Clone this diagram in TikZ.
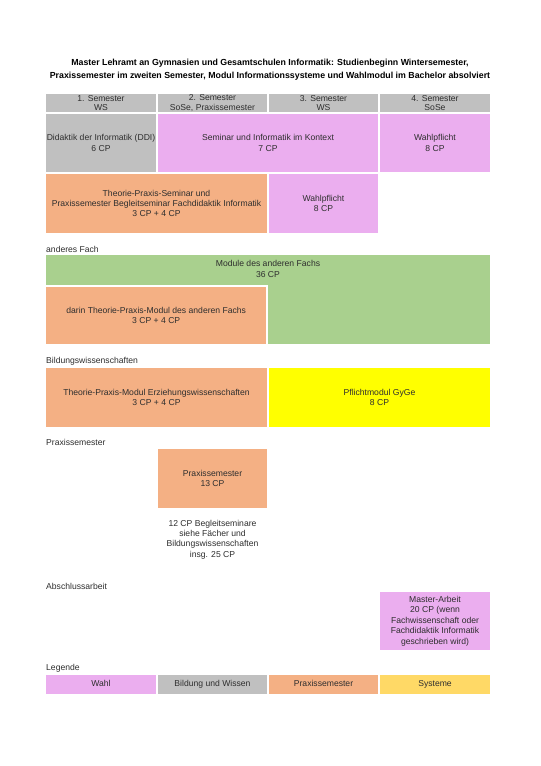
\documentclass[tikz,border=0pt]{standalone}
\usepackage{fontspec}
\setmainfont{Liberation Sans}
\definecolor{cgray}{HTML}{C0C0C0}
\definecolor{cpink}{HTML}{EBAEEF}
\definecolor{corange}{HTML}{F4B084}
\definecolor{cgreen}{HTML}{A9D08E}
\definecolor{cyellow}{HTML}{FFFF00}
\definecolor{csys}{HTML}{FFD966}
\definecolor{ctext}{HTML}{2E2E2E}
\begin{document}
\begin{tikzpicture}[x=1pt,y=-1pt,
  every node/.style={font=\fontsize{8.6}{10.4}\selectfont, text=ctext, inner sep=0pt},
  cell/.style={rectangle, align=center, minimum width=#1},
  hdr/.style={font=\fontsize{8.6}{9.8}\selectfont},
  leg/.style={text height=6.3, text depth=1.9},
  lbl/.style={anchor=west},
  txt/.style={align=center}]
\useasboundingbox[fill=white] (0,0) rectangle (541,766);
% title
\node[txt, font=\fontsize{8.8}{12.8}\selectfont\bfseries, text=black] (title) at (270,69.5)
  {Master Lehramt an Gymnasien und Gesamtschulen Informatik: Studienbeginn Wintersemester,\\
   Praxissemester im zweiten Semester, Modul Informationssysteme und Wahlmodul im Bachelor absolviert};
% header
\node[cell=110, minimum height=18, fill=cgray, hdr] (h1) at (101,103) {1. Semester\\WS};
\node[cell=109, minimum height=18, fill=cgray, hdr] (h2) at (212.5,103) {2. Semester\\SoSe, Praxissemester};
\node[cell=109, minimum height=18, fill=cgray, hdr] (h3) at (323.5,103) {3. Semester\\WS};
\node[cell=110, minimum height=18, fill=cgray, hdr] (h4) at (435,103) {4. Semester\\SoSe};
% row 1
\node[cell=110, minimum height=58, fill=cgray] (ddi) at (101,143) {Didaktik der Informatik (DDI)\\6 CP};
\node[cell=220, minimum height=58, fill=cpink] (sem) at (268,143) {Seminar und Informatik im Kontext\\7 CP};
\node[cell=110, minimum height=58, fill=cpink] (wp1) at (435,143) {Wahlpflicht\\8 CP};
% row 2
\node[cell=221, minimum height=59, fill=corange] (tps) at (156.5,203.5) {Theorie-Praxis-Seminar und\\Praxissemester Begleitseminar Fachdidaktik Informatik\\3 CP + 4 CP};
\node[cell=109, minimum height=59, fill=cpink] (wp2) at (323.5,203.5) {Wahlpflicht\\8 CP};
% anderes Fach
\node[lbl] (lafach) at (46,249) {anderes Fach};
\node[cell=444, minimum height=89, fill=cgreen] (green) at (268,299.5) {};
\node[txt] (greentxt) at (268,269) {Module des anderen Fachs\\36 CP};
\node[cell=222, minimum height=59, fill=corange, draw=white, line width=1.6pt] (tpm) at (156.2,315.5) {darin Theorie-Praxis-Modul des anderen Fachs\\3 CP + 4 CP};
% Bildungswissenschaften
\node[lbl] (lbw) at (46,361) {Bildungswissenschaften};
\node[cell=221, minimum height=59, fill=corange] (tpe) at (156.5,397.5) {Theorie-Praxis-Modul Erziehungswissenschaften\\3 CP + 4 CP};
\node[cell=221, minimum height=59, fill=cyellow] (gyge) at (379.5,397.5) {Pflichtmodul GyGe\\8 CP};
% Praxissemester
\node[lbl] (lps) at (46,442) {Praxissemester};
\node[cell=109, minimum height=59, fill=corange] (ps) at (212.5,478.5) {Praxissemester\\13 CP};
\node[txt] (pstxt) at (212.5,539.5) {12 CP Begleitseminare\\siehe Fächer und\\Bildungswissenschaften\\insg. 25 CP};
% Abschlussarbeit
\node[lbl] (lab) at (46,586) {Abschlussarbeit};
\node[cell=110, minimum height=58, fill=cpink] (ma) at (435,621) {Master-Arbeit\\20 CP (wenn\\Fachwissenschaft oder\\Fachdidaktik Informatik\\geschrieben wird)};
% Legende
\node[lbl] (lleg) at (46,668) {Legende};
\node[cell=110, minimum height=19, fill=cpink, leg] (l1) at (101,684.5) {Wahl};
\node[cell=109, minimum height=19, fill=cgray, leg] (l2) at (212.5,684.5) {Bildung und Wissen};
\node[cell=109, minimum height=19, fill=corange, leg] (l3) at (323.5,684.5) {Praxissemester};
\node[cell=110, minimum height=19, fill=csys, leg] (l4) at (435,684.5) {Systeme};
\end{tikzpicture}
\end{document}
